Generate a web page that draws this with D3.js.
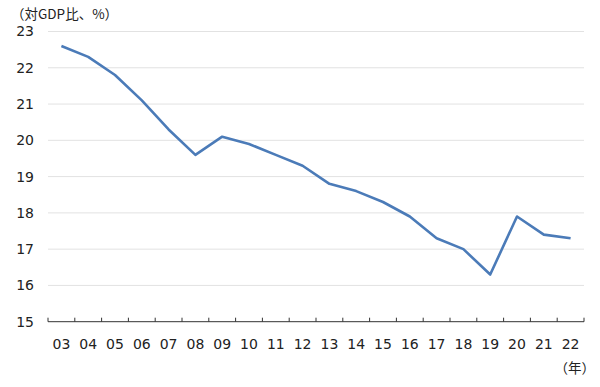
<!DOCTYPE html>
<html>
<head>
<meta charset="utf-8">
<script src="https://cdn.jsdelivr.net/npm/d3@7"></script>
<style>
  body { margin: 0; background: #fff; }
  text { font-family: "DejaVu Sans", Verdana, sans-serif; fill: #222; }
  .jp { font-family: "Noto Sans CJK JP", sans-serif; }
</style>
</head>
<body>
<div id="chart"></div>
<script>
const years = ["03","04","05","06","07","08","09","10","11","12","13","14","15","16","17","18","19","20","21","22"];
const values = [22.6, 22.3, 21.8, 21.1, 20.3, 19.6, 20.1, 19.9, 19.6, 19.3, 18.8, 18.6, 18.3, 17.9, 17.3, 17.0, 16.3, 17.9, 17.4, 17.3];
const yTicks = [15, 16, 17, 18, 19, 20, 21, 22, 23];

const W = 600, H = 387;
const margin = { top: 31.5, right: 16, bottom: 65.3, left: 48 };
const width = W - margin.left - margin.right;
const height = H - margin.top - margin.bottom;

const svg = d3.select("#chart").append("svg")
  .attr("width", W)
  .attr("height", H);

const g = svg.append("g")
  .attr("transform", `translate(${margin.left},${margin.top})`);

const x = d3.scaleBand().domain(years).range([0, width]);
const y = d3.scaleLinear().domain([15, 23]).range([height, 0]);

// gridlines
g.selectAll(".grid")
  .data(yTicks.filter(d => d > 15))
  .enter()
  .append("line")
  .attr("x1", 0)
  .attr("x2", width)
  .attr("y1", d => y(d))
  .attr("y2", d => y(d))
  .attr("stroke", "#e2e2e2")
  .attr("stroke-width", 1);

// y labels
g.selectAll(".ylab")
  .data(yTicks)
  .enter()
  .append("text")
  .attr("x", -14)
  .attr("y", d => y(d))
  .attr("dy", "0.35em")
  .attr("text-anchor", "end")
  .attr("font-size", 14)
  .text(d => d);

// x axis
const xAxis = g.append("g")
  .attr("transform", `translate(0,${height})`);
xAxis.append("line")
  .attr("x1", 0).attr("x2", width)
  .attr("stroke", "#333");
xAxis.selectAll(".tick")
  .data(years.concat(["end"]))
  .enter()
  .append("line")
  .attr("x1", (d, i) => i * x.step())
  .attr("x2", (d, i) => i * x.step())
  .attr("y1", -4).attr("y2", 0)
  .attr("stroke", "#333");
xAxis.selectAll(".xlab")
  .data(years)
  .enter()
  .append("text")
  .attr("x", d => x(d) + x.bandwidth() / 2)
  .attr("y", 27)
  .attr("text-anchor", "middle")
  .attr("font-size", 14)
  .text(d => d);

// line
const line = d3.line()
  .x((d, i) => x(years[i]) + x.bandwidth() / 2)
  .y(d => y(d));

g.append("path")
  .datum(values)
  .attr("fill", "none")
  .attr("stroke", "#4b7bb8")
  .attr("stroke-width", 2.6)
  .attr("stroke-linejoin", "round")
  .attr("d", line);

svg.append("text")
  .attr("class", "jp")
  .attr("x", 11)
  .attr("y", 19)
  .attr("font-size", 13.5)
  .text("（対GDP比、%）");

svg.append("text")
  .attr("class", "jp")
  .attr("x", 595)
  .attr("y", 373)
  .attr("text-anchor", "end")
  .attr("font-size", 13.5)
  .text("（年）");
</script>
</body>
</html>
